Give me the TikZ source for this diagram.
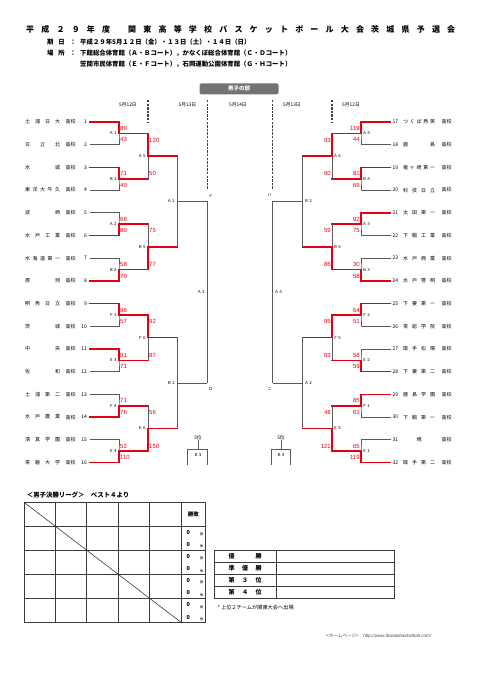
\documentclass[tikz,border=0pt]{standalone}
\usepackage{fontspec}
\setmainfont{Noto Sans CJK JP}
\newfontfamily\numfont{Liberation Sans}
\usetikzlibrary{positioning}

\definecolor{winred}{RGB}{228,0,18}
\definecolor{linegray}{RGB}{90,90,90}
\definecolor{tabgray}{RGB}{60,60,60}

% spread the characters of a text evenly over a box
\def\spreadchars#1{\spreadstep#1\relax}
\def\spreadstep#1#2{#1\ifx\relax#2\else\hfill\expandafter\spreadstep\fi#2}
\newcommand\spreadbox[2]{\makebox[#1][l]{\expandafter\spreadchars\expandafter{#2}}}

\tikzset{
  gline/.style={draw=linegray, line width=0.8pt},
  rline/.style={draw=winred, line width=1.5pt, line cap=rect},
  dayline/.style={draw=black!75, line width=1.3pt, dash pattern=on 2.4pt off 1.2pt},
  score/.style={font=\numfont\fontsize{6}{6}\selectfont, text=winred, inner sep=0pt},
  mlab/.style={font=\fontsize{4}{4}\selectfont, inner sep=0pt},
  team/.style={font=\fontsize{5}{5}\selectfont, inner sep=0pt},
  day/.style={font=\fontsize{4.8}{4.8}\selectfont, inner sep=0pt},
  info/.style={font=\bfseries\fontsize{6.4}{6.4}\selectfont, inner sep=0pt, anchor=west},
  tabline/.style={draw=tabgray, line width=0.7pt},
}

\begin{document}
\begin{tikzpicture}[x=1pt, y=-1pt]
  \useasboundingbox (0,0) rectangle (481,680);

  % title
  \node[anchor=west, inner sep=0pt, font=\bfseries\fontsize{8}{8}\selectfont] (title1) at (26,29.3) {\spreadbox{84pt}{平成２９年度}};
  \node[anchor=west, inner sep=0pt, font=\bfseries\fontsize{8}{8}\selectfont] (title2) at (128,29.3) {\spreadbox{327pt}{関東高等学校バスケットボール大会茨城県予選会}};
  \node[info] (datelab) at (47,42.3) {\spreadbox{29pt}{期日：}};
  \node[info] (datetxt) at (80,42.3) {平成２９年5月１２日（金）・１３日（土）・１４日（日）};
  \node[info] (placelab) at (47,53.3) {\spreadbox{29pt}{場所：}};
  \node[info] (place1) at (80,53.3) {下館総合体育館（Ａ・Ｂコート），かなくぼ総合体育館（Ｃ・Ｄコート）};
  \node[info] (place2) at (80,64.3) {笠間市民体育館（Ｅ・Ｆコート），石岡運動公園体育館（Ｇ・Ｈコート）};

  \node[fill=black!55, rounded corners=1.5pt, text=white, font=\bfseries\fontsize{5.5}{5.5}\selectfont,
        minimum width=79pt, minimum height=11pt, inner sep=0pt] (boys) at (239,88.8) {男子の部};

  % days
  \foreach \x/\d [count=\n] in {128/5月12日, 187.5/5月13日, 238/5月14日, 292/5月13日, 351/5月12日}
    \node[day] (day\n) at (\x,105) {\d};
  \draw[dayline] (148,100) -- (148,123);
  \draw[dayline] (207.3,100) -- (207.3,190);
  \draw[dayline] (332,100) -- (332,123);
  \draw[dayline] (272.7,100) -- (272.7,190);

  % teams
  \foreach \i/\name in {1/土浦日大, 2/日立北, 3/水城, 4/東洋大牛久, 5/波崎, 6/水戸工業, 7/水海道第一, 8/那珂,
      9/明秀日立, 10/茨城, 11/中央, 12/佐和, 13/土浦第二, 14/水戸農業, 15/清真学園, 16/常磐大学}{
    \pgfmathsetmacro\y{122+(\i-1)*22.7}
    \node[team] (tn\i) at (42.5,\y) {\spreadbox{35pt}{\name}};
    \node[team] (hs\i) at (70.5,\y) {高校};
    \node[team, anchor=east] (no\i) at (87,\y) {\i};
    \coordinate (t\i) at (89.5,\y);
  }
  \foreach \i/\name in {17/つくば秀英, 18/鹿島, 19/竜ヶ崎第一, 20/科技日立, 21/太田第一, 22/下館工業, 23/水戸商業, 24/水戸啓明,
      25/下妻第一, 26/常総学院, 27/取手松陽, 28/下妻第二, 29/鹿島学園, 30/下館第一, 31/\hfill 境\hfill, 32/取手第二}{
    \pgfmathsetmacro\y{122+(\i-17)*22.7}
    \node[team, anchor=west] (no\i) at (392.5,\y) {\i};
    \node[team] (tn\i) at (419,\y) {\spreadbox{32pt}{\name}};
    \node[team] (hs\i) at (446.5,\y) {高校};
    \coordinate (t\i) at (390.5,\y);
  }

  % left side, first round
  \foreach \k/\lab/\sa/\sb/\w in {1/Ａ１/89/43/1, 2/Ｂ１/71/40/1, 3/Ａ２/68/80/2, 4/Ｂ２/58/70/2,
      5/Ｆ３/96/57/1, 6/Ｅ３/81/71/1, 7/Ｆ４/71/76/2, 8/Ｅ４/52/110/2}{
    \pgfmathtruncatemacro\a{2*\k-1}
    \pgfmathtruncatemacro\b{2*\k}
    \pgfmathtruncatemacro\tw{\w==1 ? \a : \b}
    \pgfmathsetmacro\ym{122+(2*\k-1.5)*22.7}
    \coordinate (j1L\k) at (119,\ym);
    \draw[gline] (t\a) -| (j1L\k) |- (t\b);
    \draw[rline] (t\tw) -| (j1L\k) -- ++(29,0);
    \node[mlab, anchor=east] (m1L\k) at (117.5,\ym) {\lab};
    \node[score, anchor=west] (s1La\k) at (120,\ym-5) {\sa};
    \node[score, anchor=west] (s1Lb\k) at (120,\ym+6.5) {\sb};
  }
  % right side, first round
  \foreach \k/\lab/\sa/\sb/\w in {1/Ａ４/119/44/1, 2/Ｂ４/81/69/1, 3/Ａ３/92/75/1, 4/Ｂ３/30/58/2,
      5/Ｆ２/64/51/1, 6/Ｅ２/58/59/2, 7/Ｆ１/85/61/1, 8/Ｅ１/65/119/2}{
    \pgfmathtruncatemacro\a{2*\k+15}
    \pgfmathtruncatemacro\b{2*\k+16}
    \pgfmathtruncatemacro\tw{\w==1 ? \a : \b}
    \pgfmathsetmacro\ym{122+(2*\k-1.5)*22.7}
    \coordinate (j1R\k) at (361,\ym);
    \draw[gline] (t\a) -| (j1R\k) |- (t\b);
    \draw[rline] (t\tw) -| (j1R\k) -- ++(-29,0);
    \node[mlab, anchor=west] (m1R\k) at (362.5,\ym) {\lab};
    \node[score, anchor=east] (s1Ra\k) at (360,\ym-5) {\sa};
    \node[score, anchor=east] (s1Rb\k) at (360,\ym+6.5) {\sb};
  }

  % second round
  \foreach \k/\lab/\sa/\sb/\w in {1/Ａ５/120/50/1, 2/Ｂ５/75/77/2, 3/Ｆ６/92/87/1, 4/Ｅ６/56/150/2}{
    \pgfmathtruncatemacro\a{2*\k-1}
    \pgfmathtruncatemacro\b{2*\k}
    \pgfmathtruncatemacro\mw{\w==1 ? \a : \b}
    \pgfmathsetmacro\ym{122+(4*\k-2.5)*22.7}
    \coordinate (j2L\k) at (148,\ym);
    \draw[gline] (j1L\a -| j2L\k) -- (j1L\b -| j2L\k);
    \draw[rline] (j1L\mw -| j2L\k) -- (j2L\k) -- ++(29.3,0);
    \node[mlab, anchor=east] (m2L\k) at (146.5,\ym) {\lab};
    \node[score, anchor=west] (s2La\k) at (149,\ym-16) {\sa};
    \node[score, anchor=west] (s2Lb\k) at (149,\ym+17.5) {\sb};
  }
  \foreach \k/\lab/\sa/\sb/\w in {1/Ａ６/93/60/1, 2/Ｂ６/59/86/2, 3/Ｆ５/95/63/1, 4/Ｅ５/48/121/2}{
    \pgfmathtruncatemacro\a{2*\k-1}
    \pgfmathtruncatemacro\b{2*\k}
    \pgfmathtruncatemacro\mw{\w==1 ? \a : \b}
    \pgfmathsetmacro\ym{122+(4*\k-2.5)*22.7}
    \coordinate (j2R\k) at (332,\ym);
    \draw[gline] (j1R\a -| j2R\k) -- (j1R\b -| j2R\k);
    \draw[rline] (j1R\mw -| j2R\k) -- (j2R\k) -- ++(-29.3,0);
    \node[mlab, anchor=west] (m2R\k) at (333.5,\ym) {\lab};
    \node[score, anchor=east] (s2Ra\k) at (331,\ym-16) {\sa};
    \node[score, anchor=east] (s2Rb\k) at (331,\ym+17.5) {\sb};
  }

  % third round
  \foreach \k/\lab/\rlab in {1/Ａ１/Ｂ２, 2/Ｂ１/Ａ２}{
    \pgfmathtruncatemacro\a{2*\k-1}
    \pgfmathtruncatemacro\b{2*\k}
    \pgfmathsetmacro\ym{122+(8*\k-4.5)*22.7}
    \coordinate (j3L\k) at (177.3,\ym);
    \coordinate (j3R\k) at (302.7,\ym);
    \draw[gline] (j2L\a -| j3L\k) -- (j2L\b -| j3L\k);
    \draw[gline] (j3L\k) -- ++(30,0);
    \draw[gline] (j2R\a -| j3R\k) -- (j2R\b -| j3R\k);
    \draw[gline] (j3R\k) -- ++(-30,0);
    \node[mlab, anchor=east] (m3L\k) at (175.5,\ym) {\lab};
    \node[mlab, anchor=west] (m3R\k) at (304.5,\ym) {\rlab};
  }

  % semifinals
  \coordinate (j4L) at (207.3,292.25);
  \coordinate (j4R) at (272.7,292.25);
  \draw[gline] (j3L1 -| j4L) -- (j3L2 -| j4L);
  \draw[gline] (j3R1 -| j4R) -- (j3R2 -| j4R);
  \node[mlab, anchor=east] (m4L) at (205.5,292.25) {Ａ３};
  \node[mlab, anchor=west] (m4R) at (274.5,292.25) {Ａ４};
  \node[mlab] (ki) at (210.5,195.5) {イ};
  \node[mlab] (kro) at (210.5,389) {ロ};
  \node[mlab] (kha) at (269.5,195.5) {ハ};
  \node[mlab] (kni) at (269.5,389) {ニ};

  % fifth place
  \node[day] (fifthL) at (198,437.7) {5位};
  \draw[gline] (fifthL.south) -- (198,449.3);
  \draw[gline] (187.7,465) |- (207.3,449.3) -- (207.3,465);
  \node[mlab] (b3) at (198,455) {Ｂ３};
  \node[day] (fifthR) at (281,437.7) {5位};
  \draw[gline] (fifthR.south) -- (281,449.3);
  \draw[gline] (271.3,465) |- (290.7,449.3) -- (290.7,465);
  \node[mlab] (b4) at (281,455) {Ｂ４};

  % final league
  \node[info] (leaguetitle) at (26.7,495) {＜男子決勝リーグ＞　ベスト４より};
  \draw[tabline] (24,502.3) rectangle (205.7,622.3);
  \foreach \x in {55.7,86.7,118.3,149.7,181} \draw[tabline] (\x,502.3) -- (\x,622.3);
  \foreach \y in {526,550,574.2,598.3} \draw[tabline] (24,\y) -- (205.7,\y);
  \draw[tabline, line width=0.6pt] (24,502.3) -- (181,622.3);
  \node[font=\bfseries\fontsize{5.5}{5.5}\selectfont, inner sep=0pt] (wl) at (193.3,514) {勝敗};
  \foreach \j in {1,...,4}{
    \pgfmathsetmacro\t{526+(\j-1)*24.1}
    \node[font=\bfseries\fontsize{5.5}{5.5}\selectfont, inner sep=0pt] (win\j) at (188.3,\t+6.3) {0};
    \node[font=\fontsize{3.2}{3.2}\selectfont, inner sep=0pt] (wk\j) at (201.7,\t+8.5) {勝};
    \node[font=\bfseries\fontsize{5.5}{5.5}\selectfont, inner sep=0pt] (loss\j) at (188.3,\t+18.7) {0};
    \node[font=\fontsize{3.2}{3.2}\selectfont, inner sep=0pt] (lk\j) at (201.7,\t+20.7) {敗};
  }

  % places
  \draw[tabline] (214.3,550) rectangle (394.3,598.3);
  \foreach \y in {562.2,574.3,586.3} \draw[tabline] (214.3,\y) -- (394.3,\y);
  \draw[tabline] (276,550) -- (276,598.3);
  \foreach \r/\txt in {1/優勝, 2/準優勝, 3/第３位, 4/第４位}{
    \pgfmathsetmacro\y{550+(\r-0.5)*12.07}
    \node[font=\bfseries\fontsize{6}{6}\selectfont, inner sep=0pt] (pl\r) at (245,\y) {\spreadbox{33pt}{\txt}};
  }
  \node[anchor=west, font=\fontsize{5.2}{5.2}\selectfont, inner sep=0pt] (note) at (217.3,607.7) {*\ 上位２チームが関東大会へ出場};

  \node[anchor=west, font=\fontsize{4.6}{4.6}\selectfont, text=black!70, inner sep=0pt] (home) at (326,636)
    {<ホームページ>\quad{\numfont\itshape http://www.ibarakibasketball.com/}};
\end{tikzpicture}
\end{document}
